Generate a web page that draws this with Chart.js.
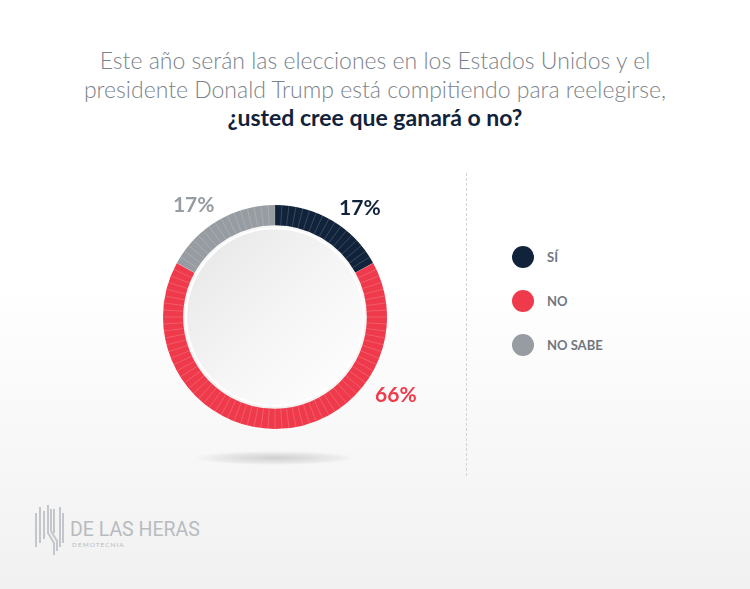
<!DOCTYPE html>
<html>
<head>
<meta charset="utf-8">
<script src="https://cdn.jsdelivr.net/npm/chart.js@4/dist/chart.umd.min.js"></script>
<style>
  html, body { margin: 0; padding: 0; }
  body {
    width: 750px; height: 589px; overflow: hidden; position: relative;
    background: linear-gradient(to bottom, #ffffff 0%, #ffffff 48%, #f1f1f1 100%);
    font-family: Lato, "Open Sans", sans-serif;
  }
  #title {
    position: absolute; left: 0; top: 46px; width: 750px; text-align: center;
    font-size: 23px; line-height: 28.5px; color: #7b838a; font-weight: 300;
  }
  #title b { color: #10233b; font-weight: 700; }
  #wrap { position: absolute; left: 125px; top: 167px; width: 300px; height: 300px; }
  #shadow {
    position: absolute; left: 195px; top: 451px; width: 160px; height: 14px;
    border-radius: 50%;
    background: radial-gradient(ellipse at center, rgba(0,0,0,0.16) 0%, rgba(0,0,0,0.06) 50%, rgba(0,0,0,0) 72%);
  }
  #divider {
    position: absolute; left: 466px; top: 173px; height: 303px; width: 0;
    border-left: 1px dashed #d3d3d3;
  }
  #legend { position: absolute; left: 512px; top: 246px; }
  .item { position: relative; height: 22px; margin-bottom: 22px; }
  .dot { position: absolute; left: 0; top: 0; width: 22px; height: 22px; border-radius: 50%; }
  .lab { position: absolute; left: 35px; top: 3px; font-size: 13px; font-weight: 700; color: #6f7780; white-space: nowrap; }
  #logo { position: absolute; left: 34px; top: 503px; }
  #brand { position: absolute; left: 70px; top: 520px; color: #b8bbbf; font-family: Roboto, sans-serif; font-size: 19.5px; line-height: 20px; font-weight: 400; }
  #sub { position: absolute; left: 72px; top: 541px; color: #b8bbbf; font-size: 6.5px; letter-spacing: 1px; }
</style>
</head>
<body>
<div id="title">Este año serán las elecciones en los Estados Unidos y el<br>presidente Donald Trump está compitiendo para reelegirse,<br><b>¿usted cree que ganará o no?</b></div>
<div id="shadow"></div>
<div id="wrap"><canvas id="donut"></canvas></div>
<div id="divider"></div>
<div id="legend"></div>
<svg id="logo" width="30" height="54" viewBox="0 0 30 54">
  <g stroke="#c3c6ca" stroke-width="2" fill="none">
    <line x1="2" y1="10" x2="2" y2="44"/>
    <line x1="6" y1="4" x2="6" y2="40"/>
    <line x1="10" y1="8" x2="10" y2="36"/>
    <polyline points="14,2 14,30 20,40 20,52"/>
    <polyline points="17,6 17,28 23,38 23,48"/>
    <line x1="20" y1="6" x2="20" y2="30"/>
    <line x1="26" y1="4" x2="26" y2="44"/>
    <line x1="29" y1="10" x2="29" y2="40"/>
  </g>
</svg>
<div id="brand">DE LAS HERAS</div>
<div id="sub">DEMOTECNIA</div>
<script>
const categories = ["SÍ", "NO", "NO SABE"];
const values = [17, 66, 17];
const colors = ["#10233b", "#ee3a4b", "#979ca2"];
// where along each arc the % label sits (fraction of the arc)
const labelFrac = [0.62, 0.26, 0.41];

// html legend
const legend = document.getElementById('legend');
categories.forEach(function (c, i) {
  const d = document.createElement('div');
  d.className = 'item';
  d.innerHTML = '<div class="dot" style="background:' + colors[i] + '"></div><div class="lab">' + c + '</div>';
  legend.appendChild(d);
});

const ringDecor = {
  id: 'ringDecor',
  beforeDatasetsDraw(chart) {
    const arc = chart.getDatasetMeta(0).data[0];
    const c = chart.ctx;
    const r = arc.innerRadius - 3;
    c.save();
    c.shadowColor = 'rgba(0,0,0,0.12)';
    c.shadowBlur = 6;
    const g = c.createLinearGradient(arc.x - r, arc.y - r, arc.x + r, arc.y + r);
    g.addColorStop(0, '#e6e6e6');
    g.addColorStop(0.55, '#f6f6f6');
    g.addColorStop(1, '#ffffff');
    c.beginPath();
    c.arc(arc.x, arc.y, r, 0, Math.PI * 2);
    c.fillStyle = g;
    c.fill();
    c.shadowBlur = 0;
    c.lineWidth = 2;
    c.strokeStyle = '#ffffff';
    c.stroke();
    c.restore();
  },
  afterDatasetsDraw(chart) {
    const meta = chart.getDatasetMeta(0);
    const a0 = meta.data[0];
    const c = chart.ctx;
    c.save();
    // thin stripes across the ring
    c.strokeStyle = 'rgba(255,255,255,0.22)';
    c.lineWidth = 0.8;
    for (let k = 0; k < 100; k++) {
      const t = -Math.PI / 2 + k * Math.PI * 2 / 100;
      c.beginPath();
      c.moveTo(a0.x + Math.cos(t) * a0.innerRadius, a0.y + Math.sin(t) * a0.innerRadius);
      c.lineTo(a0.x + Math.cos(t) * a0.outerRadius, a0.y + Math.sin(t) * a0.outerRadius);
      c.stroke();
    }
    // percentage labels
    c.font = '700 21px Lato, "Open Sans", sans-serif';
    c.textAlign = 'center';
    c.textBaseline = 'middle';
    meta.data.forEach(function (el, i) {
      const t = el.startAngle + (el.endAngle - el.startAngle) * labelFrac[i];
      const rr = el.outerRadius + (i === 1 ? 32 : 26);
      c.fillStyle = colors[i];
      c.fillText(values[i] + '%', el.x + Math.cos(t) * rr, el.y + Math.sin(t) * rr);
    });
    c.restore();
  }
};

new Chart(document.getElementById('donut'), {
  type: 'doughnut',
  data: {
    labels: categories,
    datasets: [{
      data: values,
      backgroundColor: colors,
      borderWidth: 0
    }]
  },
  options: {
    responsive: true,
    maintainAspectRatio: false,
    animation: false,
    cutout: '82%',
    layout: { padding: 38 },
    plugins: { legend: { display: false }, tooltip: { enabled: false } }
  },
  plugins: [ringDecor]
});
</script>
</body>
</html>
